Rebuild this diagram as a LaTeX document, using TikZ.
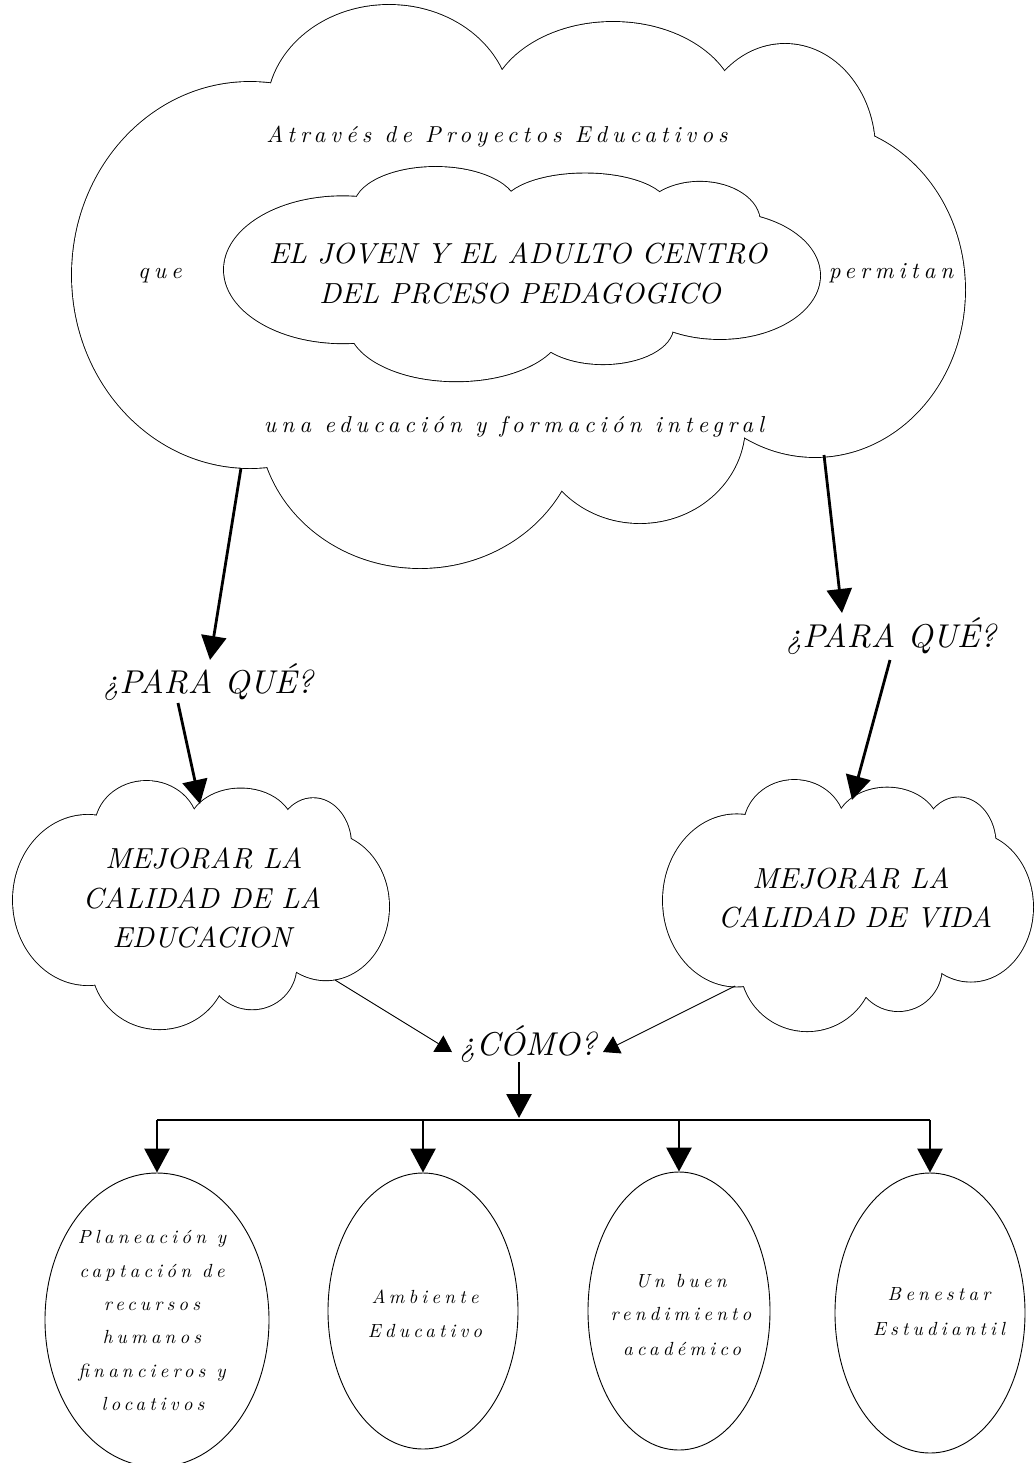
\documentclass[tikz,border=0pt]{standalone}
\usepackage{fontspec}
\newfontfamily\scfont{lmroman10-italic.otf}[LetterSpace=22]
\newfontfamily\capfont{lmroman10-italic.otf}
\usetikzlibrary{arrows.meta,shapes.geometric}
% cloud made of seven puffs: outline = outer half of a double-width stroke, inside filled white
\newcommand{\puffcloud}[4]{%
 \foreach \cx/\cy/\rx/\ry in {0.1993/0.4779/0.1993/0.3416, 0.355/0.1858/0.1366/0.1858, 0.6058/0.1894/0.140/0.1593, 0.7984/0.2566/0.1008/0.1876, 0.832/0.5044/0.168/0.2956, 0.636/0.7434/0.1176/0.1735, 0.3897/0.7345/0.1803/0.262}
   {\draw[puffline] ({#1+\cx*#3},{#2+\cy*#4}) ellipse [x radius={\rx*#3*1pt}, y radius={\ry*#4*1pt}];}%
 \foreach \cx/\cy/\rx/\ry in {0.1993/0.4779/0.1993/0.3416, 0.355/0.1858/0.1366/0.1858, 0.6058/0.1894/0.140/0.1593, 0.7984/0.2566/0.1008/0.1876, 0.832/0.5044/0.168/0.2956, 0.636/0.7434/0.1176/0.1735, 0.3897/0.7345/0.1803/0.262}
   {\fill[white] ({#1+\cx*#3},{#2+\cy*#4}) ellipse [x radius={\rx*#3*1pt}, y radius={\ry*#4*1pt}];}%
 \fill[white] ({#1+0.235*#3},{#2+0.16*#4}) -- ({#1+0.484*#3},{#2+0.15*#4}) -- ({#1+0.731*#3},{#2+0.14*#4}) -- ({#1+0.87*#3},{#2+0.29*#4}) -- ({#1+0.74*#3},{#2+0.74*#4}) -- ({#1+0.546*#3},{#2+0.83*#4}) -- ({#1+0.235*#3},{#2+0.79*#4}) -- cycle;}
\begin{document}
\begin{tikzpicture}[x=1pt,y=-1pt,
  puffline/.style={draw=black,line width=1.8pt},
  bigarrow/.style={line width=2.8pt,-{Triangle[length=24pt,width=25pt]}},
  thinarrow/.style={line width=0.9pt,-{Triangle[length=16pt,width=19pt]}},
  stxt/.style={font=\scfont\fontsize{23}{27}\selectfont,anchor=base,inner sep=0pt},
  etxt/.style={font=\scfont\fontsize{19}{23}\selectfont,anchor=base,inner sep=0pt},
  ctxt/.style={font=\capfont\fontsize{29}{32}\selectfont,anchor=base,inner sep=0pt},
  qtxt/.style={font=\capfont\fontsize{33}{36}\selectfont,anchor=base,inner sep=0pt},
  oval/.style={ellipse,draw,line width=0.9pt,inner sep=0pt}]
\fill[white] (0,0) rectangle (1033,1463);
\useasboundingbox (0,0) rectangle (1033,1463);
\puffcloud{72}{5}{893}{565}
\puffcloud{224}{167}{596}{215}
\puffcloud{13}{781}{376}{249}
\puffcloud{663}{780}{370}{252}
\node[stxt] (tatraves) at (497,143) {Através de Proyectos Educativos};
\node[stxt] (tque) at (160,278) {que};
\node[stxt] (tpermitan) at (891,278) {permitan};
\node[ctxt] (tjoven1) at (518,263) {EL JOVEN Y EL ADULTO CENTRO};
\node[ctxt] (tjoven2) at (520,303) {DEL PRCESO PEDAGOGICO};
\node[stxt] (tuna) at (514,432) {una educación y formación integral};
\node[qtxt] (pqL) at (208,693) {¿PARA QUÉ?};
\node[qtxt] (pqR) at (891,647) {¿PARA QUÉ?};
\node[ctxt] (mL1) at (204,868) {MEJORAR LA};
\node[ctxt] (mL2) at (202,908) {CALIDAD DE LA};
\node[ctxt] (mL3) at (202,947) {EDUCACION};
\node[ctxt] (mR1) at (851,888) {MEJORAR LA};
\node[ctxt] (mR2) at (855,927) {CALIDAD DE VIDA};
\node[qtxt] (como) at (528,1055) {¿CÓMO?};
\node[oval,minimum width=224pt,minimum height=294pt] (e1) at (157,1320) {};
\node[oval,minimum width=190pt,minimum height=276pt] (e2) at (423,1311) {};
\node[oval,minimum width=182pt,minimum height=278pt] (e3) at (679,1311) {};
\node[oval,minimum width=190pt,minimum height=280pt] (e4) at (930,1313) {};
\node[etxt] (e1a) at (152,1243) {Planeación y};
\node[etxt] (e1b) at (152,1277) {captación de};
\node[etxt] (e1c) at (152,1310) {recursos};
\node[etxt] (e1d) at (152,1343) {humanos};
\node[etxt] (e1e) at (152,1377) {financieros y};
\node[etxt] (e1f) at (153,1410) {locativos};
\node[etxt] (e2a) at (425,1303) {Ambiente};
\node[etxt] (e2b) at (425,1337) {Educativo};
\node[etxt] (e3a) at (681,1287) {Un buen};
\node[etxt] (e3b) at (681,1320) {rendimiento};
\node[etxt] (e3c) at (682,1355) {académico};
\node[etxt] (e4a) at (939,1300) {Benestar};
\node[etxt] (e4b) at (939,1335) {Estudiantil};
\coordinate (bigL) at (241,468);
\coordinate (pqLin) at (210,660);
\coordinate (pqLout) at (178,703);
\coordinate (cloudLin) at (200,804);
\coordinate (bigR) at (824,455);
\coordinate (pqRin) at (842,613);
\coordinate (pqRout) at (890,660);
\coordinate (cloudRin) at (852,800);
\coordinate (cloudLout) at (335,980);
\coordinate (comoL) at (452,1052);
\coordinate (cloudRout) at (735,986);
\coordinate (comoR) at (603,1052);
\coordinate (comoout) at (519,1062);
\coordinate (barmid) at (519,1118);
\coordinate (bar1) at (157,1120);
\coordinate (bar2) at (423,1120);
\coordinate (bar3) at (679,1120);
\coordinate (bar4) at (930,1120);
\draw[bigarrow] (bigL) -- (pqLin);
\draw[bigarrow] (pqLout) -- (cloudLin);
\draw[bigarrow] (bigR) -- (pqRin);
\draw[bigarrow] (pqRout) -- (cloudRin);
\draw[thinarrow] (cloudLout) -- (comoL);
\draw[thinarrow] (cloudRout) -- (comoR);
\draw[bigarrow] (comoout) -- (barmid);
\draw[line width=2.8pt] (bar1) -- (bar4);
\draw[bigarrow] (bar1) -- (e1.north);
\draw[bigarrow] (bar2) -- (e2.north);
\draw[bigarrow] (bar3) -- (e3.north);
\draw[bigarrow] (bar4) -- (e4.north);
\end{tikzpicture}
\end{document}
